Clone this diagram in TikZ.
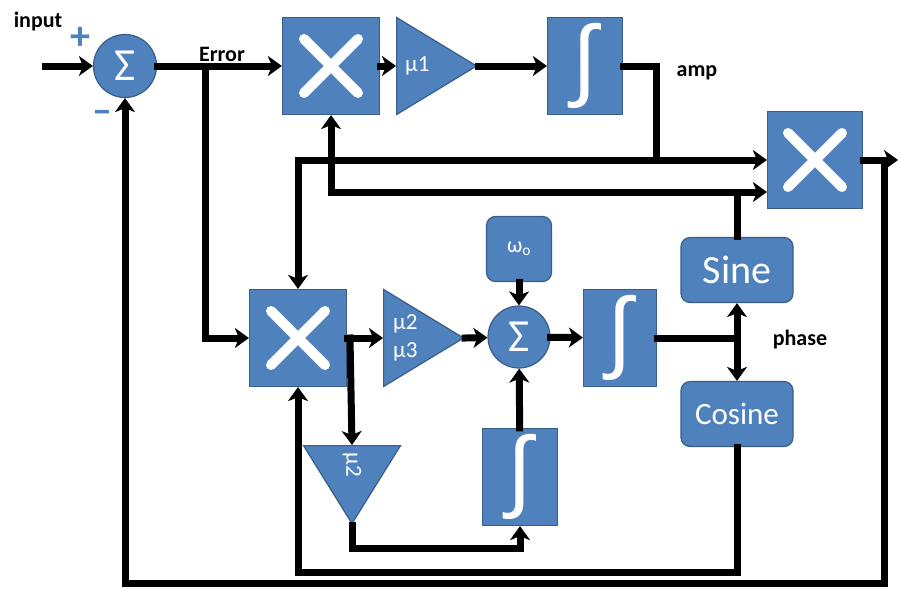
\documentclass[tikz,border=0pt]{standalone}
\usepackage{fontspec}
\setmainfont{Carlito}
\newfontfamily\intfont{Liberation Sans}
\usepackage{tikz}
\usetikzlibrary{positioning, arrows.meta, shapes.geometric}
\definecolor{blockblue}{HTML}{4F81BD}
\definecolor{blockedge}{HTML}{385D8A}

\begin{document}
\begin{tikzpicture}[
        x=1pt, y=-1pt,
        block/.style={
            rectangle,
            draw=blockedge,
            fill=blockblue,
            line width=1.2pt,
            text=white,
            inner sep=0pt,
            font=\intfont\fontsize{90}{90}\selectfont
        },
        mult/.style={
            block,
            minimum width=97pt,
            minimum height=97pt,
            path picture={
                \draw[white, line width=10pt, line cap=round]
                    ([shift={(-27pt,-27pt)}]path picture bounding box.center) -- ++(54pt,54pt)
                    ([shift={(-27pt,27pt)}]path picture bounding box.center) -- ++(54pt,-54pt);
            }
        },
        integ/.style={
            block,
            minimum width=75pt,
            minimum height=97pt
        },
        rbox/.style={
            block,
            rounded corners=9pt
        },
        adder/.style={
            circle,
            draw=blockedge,
            fill=blockblue,
            line width=1.2pt,
            text=white,
            minimum size=63pt,
            inner sep=0pt,
            font=\fontsize{46}{46}\selectfont
        },
        gain/.style={
            isosceles triangle,
            isosceles triangle stretches,
            draw=blockedge,
            fill=blockblue,
            line width=1.2pt,
            minimum width=97pt,
            minimum height=80pt,
            inner sep=0pt,
            anchor=lower side
        },
        gaintext/.style={
            text=white,
            align=left,
            inner sep=0pt,
            font=\fontsize{23}{28}\selectfont
        },
        tag/.style={
            inner sep=0pt,
            font=\bfseries\fontsize{22}{22}\selectfont
        },
        sign/.style={
            inner sep=0pt,
            text=blockblue,
            font=\bfseries\fontsize{40}{40}\selectfont
        },
        wire/.style={
            line width=7pt,
            line cap=rect
        },
        arrow/.style={
            -{Stealth[length=14pt, width=20pt, inset=4pt]},
            line width=7pt,
            line cap=rect
        }
    ]
    \useasboundingbox (0,0) rectangle (901,589);

    % amplitude loop
    \node[adder] (sumA) at (125,66) {Σ};
    \node[mult] (multA) at (331,66) {};
    \node[gain] (gainA) at (396,66) {};
    \node[gaintext, right=9pt of gainA.lower side] (muA) {µ1};
    \node[integ] (intA) at (585,66) {∫};
    \node[mult, minimum width=95pt] (multC) at (815,160) {};

    % phase loop
    \node[mult] (multB) at (298,338) {};
    \node[gain] (gainB) at (383,338) {};
    \node[gaintext, right=10pt of gainB.lower side] (muB) {µ2\\µ3};
    \node[adder, minimum size=62pt] (sumB) at (519,337) {Σ};
    \node[rbox, minimum width=65pt, minimum height=65pt, font=\fontsize{22}{22}\selectfont] (omega) at (519,249) {ω\textsubscript{o}};
    \node[integ, minimum width=73pt] (intB) at (620,338) {∫};
    \node[rbox, minimum width=112pt, minimum height=65pt, font=\fontsize{40}{40}\selectfont] (sine) at (737,270) {Sine};
    \node[rbox, minimum width=112pt, minimum height=65pt, font=\fontsize{31}{31}\selectfont] (cosine) at (737,414) {Cosine};
    \node[gain, rotate=-90, minimum height=78pt] (gainC) at (352,445) {};
    \node[gaintext, rotate=-90] (muC) at (352,465) {µ2};
    \node[integ] (intC) at (520,477) {∫};

    % labels
    \node[tag] (inputlbl) at (38,22) {input};
    \node[sign] (plus) at (80,38) {+};
    \node[sign] (minus) at (102,117) {–};
    \node[tag] (errlbl) at (222,54) {Error};
    \node[tag] (amplbl) at (697,73) {amp};
    \node[tag] (phaselbl) at (800,340) {phase};

    % corners and splits
    \coordinate (in) at (45,66);
    \coordinate (errsplit) at (205,66);
    \coordinate (ampjoin) at (656,160);
    \coordinate (sinejoin) at (737,192);
    \coordinate (outsplit) at (884,160);
    \coordinate (out) at (898,160);
    \coordinate (fbcorner) at (884,583);
    \coordinate (bsplit) at (350,338);
    \coordinate (phsplit) at (737,338);
    \coordinate (coscorner) at (737,572);
    \coordinate (mucorner) at (352,548);

    % Arrows
    \draw[arrow] (in) -- (sumA);
    \draw[arrow] (sumA) -- (multA);
    \draw[arrow] (errsplit) |- (multB);
    \draw[arrow] (multA) -- (gainA.lower side);
    \draw[arrow] (gainA.apex) -- (intA);
    \draw[wire] (intA) -| (ampjoin);
    \draw[arrow] (ampjoin) -- (multC);
    \draw[arrow] (ampjoin) -| (multB);

    \draw[wire] (sine) -- (sinejoin);
    \draw[arrow] (sinejoin) -- (multC.west |- sinejoin);
    \draw[arrow] (sinejoin) -| (multA);

    \draw[arrow] (multC) -- (out);
    \draw[arrow] (outsplit) -- (fbcorner) -| (sumA);

    \draw[arrow] (multB) -- (gainB.lower side);
    \draw[arrow] (bsplit) -- (gainC.lower side);
    \draw[arrow] (gainB.apex) -- (sumB);
    \draw[arrow] (omega) -- (sumB);
    \draw[arrow] (intC) -- (sumB);
    \draw[arrow] (sumB) -- (intB);
    \draw[wire] (intB) -- (phsplit);
    \draw[arrow] (phsplit) -- (sine);
    \draw[arrow] (phsplit) -- (cosine);
    \draw[wire] (cosine) -- (coscorner);
    \draw[arrow] (coscorner) -| (multB);
    \draw[wire] (gainC.apex) -- (mucorner);
    \draw[arrow] (mucorner) -| (intC);

\end{tikzpicture}
\end{document}
